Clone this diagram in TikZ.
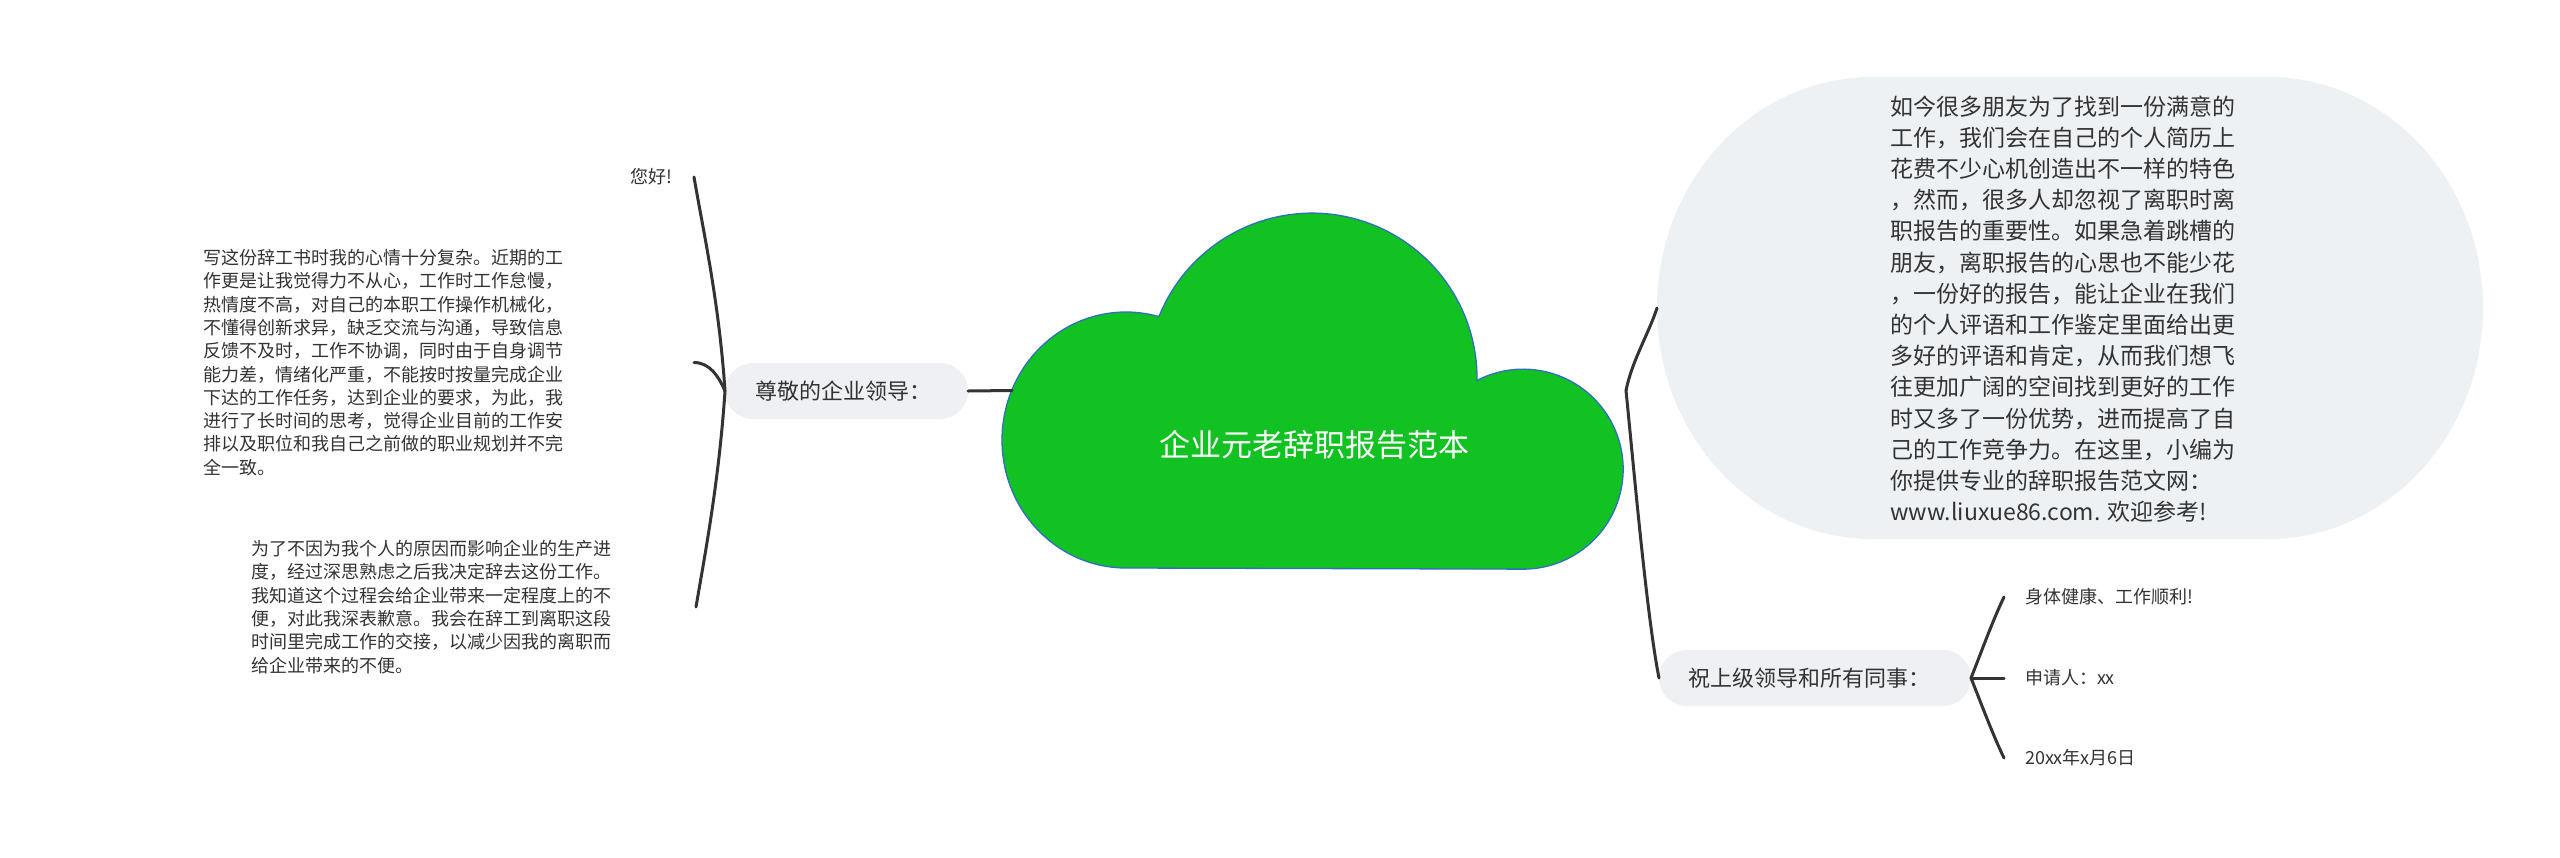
\documentclass[tikz,border=0pt]{standalone}
\usepackage{fontspec}
\setmainfont{Noto Sans CJK SC}
\definecolor{linec}{HTML}{333333}
\definecolor{textc}{HTML}{333333}
\definecolor{pillc}{HTML}{EEF0F3}
\definecolor{bigc}{HTML}{EEF1F4}
\definecolor{cloudc}{HTML}{12C122}
\definecolor{cloudb}{HTML}{2F6FC0}
\begin{document}
\begin{tikzpicture}[x=1pt,y=-1pt,
  conn/.style={draw=linec, line width=3pt, line cap=round},
  pill/.style={fill=pillc, rounded corners=28pt, minimum height=56pt, inner sep=0pt, outer sep=0pt, text=textc, font=\fontsize{22}{26}\selectfont},
  leaf/.style={text=textc, inner ysep=2pt, outer sep=0pt, font=\fontsize{18}{23.3}\selectfont},
  rootbox/.style={rectangle, draw=none, inner sep=0pt, outer sep=0pt, minimum width=614pt, minimum height=356pt},
  bigbox/.style={rectangle, draw=none, inner sep=0pt, outer sep=0pt, minimum width=826pt, minimum height=462pt},
  bigtext/.style={text=textc, align=left, inner sep=0pt, font=\fontsize{23}{31.2}\selectfont},
  titletext/.style={text=white, inner sep=0pt, font=\fontsize{31}{36}\selectfont},
  cloudshape/.style={fill=cloudc, draw=cloudb, line width=1.3pt}
]
\useasboundingbox (0,0) rectangle (2560,857);
\fill[white] (0,0) rectangle (2560,857);

% central cloud
\path[cloudshape] (1126,568) arc[start angle=90,end angle=285.4,x radius=124,y radius=128]
  arc[start angle=201.9,end angle=360.8,radius=165]
  arc[start angle=242.5,end angle=450,radius=100] -- cycle;
\node[rootbox] (root) at (1319,390.5) {};
\node[titletext] (title) at (1314,445) {企业元老辞职报告范本};

% main branches
\node[pill, minimum width=243pt] (n1) at (846.5,391) {尊敬的企业领导：\hspace*{7pt}};
\node[pill, minimum width=312pt] (n2) at (1815,678) {祝上级领导和所有同事：\hspace*{12pt}};

% large rounded text topic
\node[bigbox] (bigshape) at (2070,308) {};
\fill[bigc] (1872,77) -- (2268,77)
  arc[start angle=-90,end angle=90,x radius=215,y radius=231]
  -- (1872,539)
  arc[start angle=90,end angle=270,x radius=215,y radius=231] -- cycle;
\node[bigtext] (bigtext) at (2063,309) {如今很多朋友为了找到一份满意的\\
工作，我们会在自己的个人简历上\\
花费不少心机创造出不一样的特色\\
，然而，很多人却忽视了离职时离\\
职报告的重要性。如果急着跳槽的\\
朋友，离职报告的心思也不能少花\\
，一份好的报告，能让企业在我们\\
的个人评语和工作鉴定里面给出更\\
多好的评语和肯定，从而我们想飞\\
往更加广阔的空间找到更好的工作\\
时又多了一份优势，进而提高了自\\
己的工作竞争力。在这里，小编为\\
你提供专业的辞职报告范文网：\\
www.liuxue86.com. 欢迎参考!};

% left leaves
\node[leaf, anchor=east, inner xsep=22pt] (hello) at (694,177) {您好!};
\node[leaf, anchor=east, inner xsep=0pt, text width=491pt, align=left] (l1) at (694,362.5) {写这份辞工书时我的心情十分复杂。近期的工\\
作更是让我觉得力不从心，工作时工作怠慢，\\
热情度不高，对自己的本职工作操作机械化，\\
不懂得创新求异，缺乏交流与沟通，导致信息\\
反馈不及时，工作不协调，同时由于自身调节\\
能力差，情绪化严重，不能按时按量完成企业\\
下达的工作任务，达到企业的要求，为此，我\\
进行了长时间的思考，觉得企业目前的工作安\\
排以及职位和我自己之前做的职业规划并不完\\
全一致。};
\node[leaf, anchor=east, inner xsep=0pt, text width=445pt, align=left] (l2) at (696,607) {为了不因为我个人的原因而影响企业的生产进\\
度，经过深思熟虑之后我决定辞去这份工作。\\
我知道这个过程会给企业带来一定程度上的不\\
便，对此我深表歉意。我会在辞工到离职这段\\
时间里完成工作的交接，以减少因我的离职而\\
给企业带来的不便。};

% right leaves
\node[leaf, anchor=west, inner xsep=21pt] (w1) at (2004,597) {身体健康、工作顺利!};
\node[leaf, anchor=west, inner xsep=21pt] (w2) at (2004,678) {申请人：xx};
\node[leaf, anchor=west, inner xsep=21pt] (w3) at (2004,758) {20xx年x月6日};

% connectors
\draw[conn] (n1.east) -- (root.west);
\draw[conn] (root.east) .. controls +(6,-30) and +(-8,25) .. (bigshape.west);
\draw[conn] (root.east) .. controls +(8,80) and +(-12,-60) .. (n2.west);
\draw[conn] (n1.west) .. controls +(-6,-90) and +(9,53) .. (hello.east);
\draw[conn] (n1.west) .. controls +(-6,-14) and +(16,0) .. (l1.east);
\draw[conn] (n1.west) .. controls +(-6,90) and +(9,-53) .. (l2.east);
\draw[conn] (n2.east) .. controls +(10,-25) and +(-12,25) .. (w1.west);
\draw[conn] (n2.east) -- (w2.west);
\draw[conn] (n2.east) .. controls +(10,25) and +(-12,-25) .. (w3.west);
\end{tikzpicture}
\end{document}
